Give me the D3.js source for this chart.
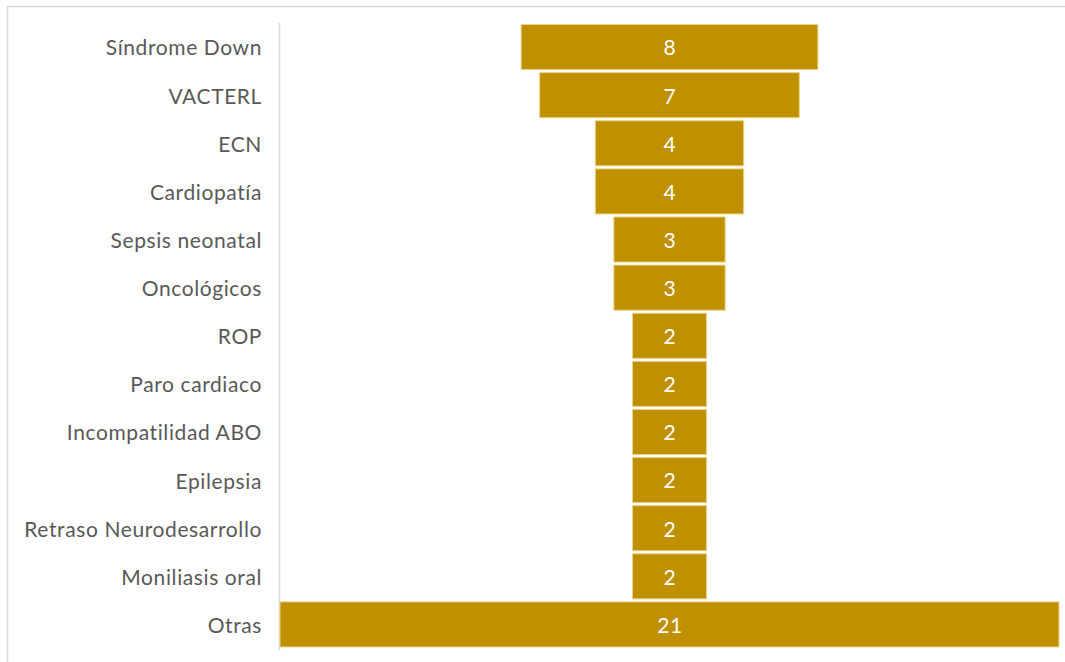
<!DOCTYPE html>
<html>
<head>
<meta charset="utf-8">
<script src="https://cdn.jsdelivr.net/npm/d3@7"></script>
<style>
  html, body { margin: 0; padding: 0; background: #fff; }
  svg { display: block; }
</style>
</head>
<body>
<svg id="chart" width="1065" height="662"></svg>
<script>
// Diagnósticos asociados (número de pacientes)
const categories = [
  "Síndrome Down", "VACTERL", "ECN", "Cardiopatía", "Sepsis neonatal",
  "Oncológicos", "ROP", "Paro cardiaco", "Incompatilidad ABO", "Epilepsia",
  "Retraso Neurodesarrollo", "Moniliasis oral", "Otras"
];
const values = [8, 7, 4, 4, 3, 3, 2, 2, 2, 2, 2, 2, 21];

const svg = d3.select("#chart");
const W = 1065, H = 662;
const plot = { left: 280, right: 1059, top: 23, bottom: 648.5 };
const centerX = (plot.left + plot.right) / 2;
const fontFamily = "Lato, 'Open Sans', sans-serif";

// Chart frame
svg.append("rect")
  .attr("x", 7.5).attr("y", 6.5)
  .attr("width", W + 20).attr("height", H + 20)
  .attr("fill", "none").attr("stroke", "#d9d9d9").attr("stroke-width", 1.5);

const y = d3.scaleBand()
  .domain(categories)
  .range([plot.top, plot.bottom])
  .paddingInner(0.0625)
  .paddingOuter(0.03125);

const w = d3.scaleLinear()
  .domain([0, d3.max(values)])
  .range([0, plot.right - plot.left]);

const data = categories.map((c, i) => ({ c, v: values[i] }));

// Category axis (vertical line with labels, no ticks)
const axis = d3.axisLeft(y).tickSize(0).tickPadding(17.5);
const gAxis = svg.append("g")
  .attr("transform", `translate(${plot.left - 0.5},0)`)
  .call(axis);
gAxis.select(".domain")
  .attr("d", `M0,${plot.top}V${plot.bottom + 2}`)
  .attr("stroke", "#d9d9d9").attr("stroke-width", 1.5);
gAxis.selectAll("text")
  .attr("fill", "#595959")
  .attr("dy", "0.4em")
  .style("font-family", fontFamily)
  .style("font-size", "21px")
  .style("letter-spacing", "0.6px");

// Funnel bars, centred on the plot
svg.append("g").selectAll("rect")
  .data(data)
  .join("rect")
  .attr("x", d => centerX - w(d.v) / 2)
  .attr("y", d => y(d.c))
  .attr("width", d => w(d.v))
  .attr("height", y.bandwidth())
  .attr("fill", "#bf9000")
  .attr("stroke", "#ecd48a")
  .attr("stroke-width", 1);

// Value labels
svg.append("g").selectAll("text")
  .data(data)
  .join("text")
  .attr("x", centerX + 0.5)
  .attr("y", d => y(d.c) + y.bandwidth() / 2)
  .attr("dy", "0.4em")
  .attr("text-anchor", "middle")
  .attr("fill", "#ffffff")
  .style("font-family", fontFamily)
  .style("font-size", "21px")
  .style("letter-spacing", "0.6px")
  .text(d => d.v);
</script>
</body>
</html>
